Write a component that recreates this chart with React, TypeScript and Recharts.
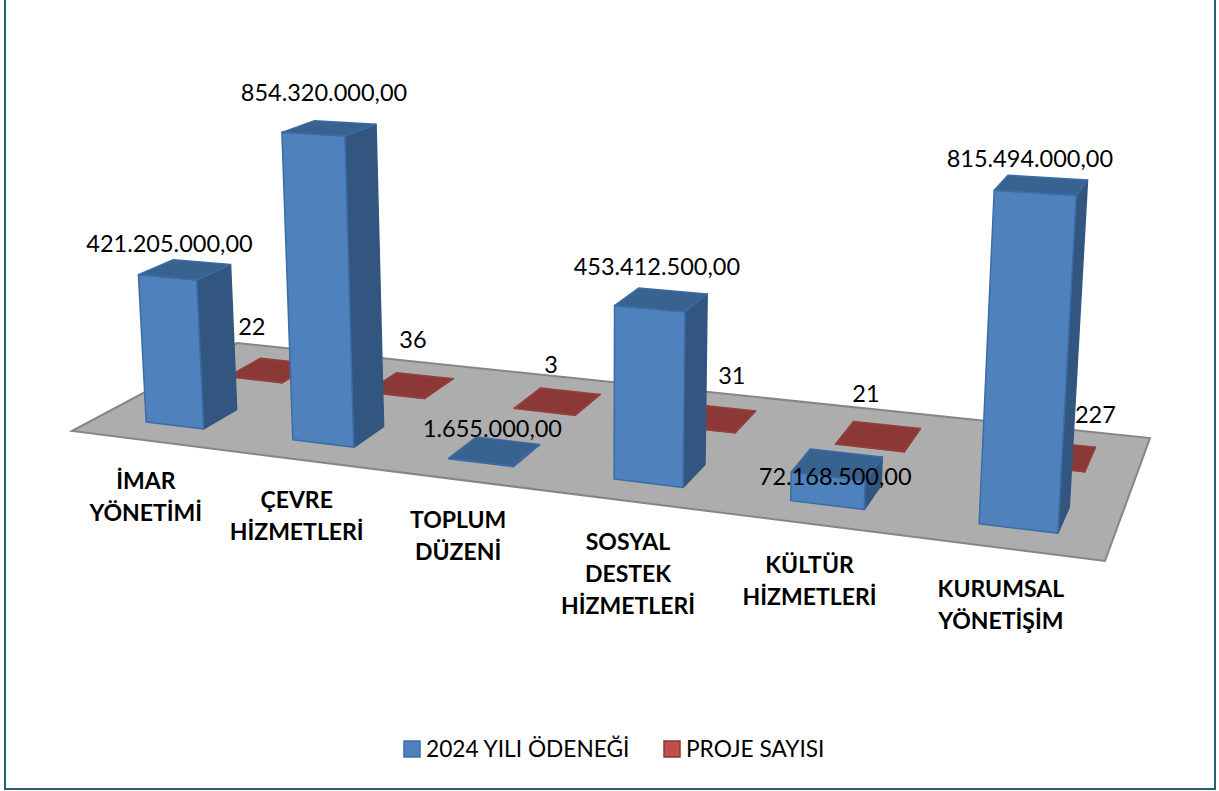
import { BarChart, Bar, XAxis, YAxis, LabelList } from 'recharts';

const categories = ['İMAR YÖNETİMİ', 'ÇEVRE HİZMETLERİ', 'TOPLUM DÜZENİ', 'SOSYAL DESTEK HİZMETLERİ', 'KÜLTÜR HİZMETLERİ', 'KURUMSAL YÖNETİŞİM'];
const budget = [421205000, 854320000, 1655000, 453412500, 72168500, 815494000];
const projects = [22, 36, 3, 31, 21, 227];
const seriesNames = ['2024 YILI ÖDENEĞİ', 'PROJE SAYISI'];

const data = categories.map((name, i) => ({ name, budget: budget[i], projects: projects[i] }));

const WIDTH = 1219;
const HEIGHT = 791;
const FONT = 'Lato, sans-serif';

// floor corners as seen on screen: back left, back right, front right, front left
const FLOOR = [[237, 343], [1150, 438], [1105, 561], [72, 431]];

const BLUE = { front: '#4f81bd', side: '#335680', top: '#38628f', stroke: '#3a6ca6' };
const RED = { front: '#c0504d', side: '#8c3836', top: '#8c3836', stroke: '#94403d' };

// homography from the unit floor square to the screen
const [[x0, y0], [x1, y1], [x2, y2], [x3, y3]] = FLOOR;
const sx = x0 - x1 + x2 - x3;
const sy = y0 - y1 + y2 - y3;
const dx1 = x1 - x2;
const dx2 = x3 - x2;
const dy1 = y1 - y2;
const dy2 = y3 - y2;
const den = dx1 * dy2 - dx2 * dy1;
const g = (sx * dy2 - dx2 * sy) / den;
const h = (dx1 * sy - sx * dy1) / den;

const toU = (px: number) => px / WIDTH + 0.005;
const depthOf = (u: number, v: number) => 1 + g * u + h * v;

function project(u: number, v: number) {
  const w = depthOf(u, v);
  return {
    x: ((x1 - x0 + g * x1) * u + (x3 - x0 + h * x3) * v + x0) / w,
    y: ((y1 - y0 + g * y1) * u + (y3 - y0 + h * y3) * v + y0) / w,
  };
}

// a vertical edge: grows with perspective and leans away from the middle
function raise(u: number, v: number, size: number) {
  const p = project(u, v);
  const up = size / depthOf(u, v);
  return { x: p.x + (p.x - 595) * 0.0001178 * up, y: p.y - up };
}

const pts = (list: { x: number; y: number }[]) => list.map((p) => `${p.x},${p.y}`).join(' ');

function box(x: number, width: number, height: number, vF: number, vB: number) {
  const uL = toU(x);
  const uR = toU(x + width);
  return {
    fl: project(uL, vF),
    fr: project(uR, vF),
    br: project(uR, vB),
    tfl: raise(uL, vF, height),
    tfr: raise(uR, vF, height),
    tbr: raise(uR, vB, height),
    tbl: raise(uL, vB, height),
  };
}

const makeBox = (vF: number, vB: number, c: typeof BLUE) => (props: any) => {
  const b = box(props.x, props.width, Math.abs(props.height), vF, vB);
  return (
    <g strokeWidth={1.5} strokeLinejoin="round">
      <polygon points={pts([b.fr, b.br, b.tbr, b.tfr])} fill={c.side} stroke={c.side} />
      <polygon points={pts([b.fl, b.fr, b.tfr, b.tfl])} fill={c.front} stroke={c.stroke} />
      <polygon points={pts([b.tfl, b.tfr, b.tbr, b.tbl])} fill={c.top} stroke={c.stroke} />
    </g>
  );
};

const money = (v: number) => v.toLocaleString('tr-TR', { minimumFractionDigits: 2, maximumFractionDigits: 2 });

// hand placed labels in the original
const budgetNudge = [[-15, 0.5], [-5, -9.5], [-1.5, 3.5], [-4, -6.5], [-1.5, 38.5], [-11, -0.5]];
const projectNudge = [[-19, -5], [3, -7], [-6, 2], [19, -4], [-12, -4], [42, -2]];
const tickNudge = [-2.5, -2.5, -1.5, -2.5, -3.5, -7.5];

const makeLabel = (vF: number, vB: number, nudge: number[][], fmt: (v: number) => string, dy: number) => (props: any) => {
  const { x, width, height, value, index } = props;
  const b = box(x, width, Math.abs(height), vF, vB);
  const cx = (b.tfl.x + b.tbr.x) / 2 + nudge[index][0];
  const cy = (b.tfl.y + b.tbr.y) / 2 + nudge[index][1] + dy;
  return (
    <text x={cx} y={cy} textAnchor="middle" fontFamily={FONT} fontSize={23.5} fill="#000">
      {fmt(value)}
    </text>
  );
};

function CategoryTick(props: any) {
  const { x, payload, index } = props;
  const p = project(toU(x), 1);
  return (
    <text textAnchor="middle" fontFamily={FONT} fontWeight={700} fontSize={23} fill="#000">
      {String(payload.value)
        .split(' ')
        .map((line, i) => (
          <tspan key={line} x={p.x + tickNudge[index]} y={p.y + 48.5 + i * 32}>
            {line}
          </tspan>
        ))}
    </text>
  );
}

export default function App() {
  return (
    <div style={{ position: 'relative', width: WIDTH, height: HEIGHT, overflow: 'hidden', background: '#fff' }}>
      <style>{'body{margin:0}'}</style>
      <div
        style={{
          position: 'absolute',
          left: 4,
          top: -4,
          width: 1212,
          height: 794,
          boxSizing: 'border-box',
          border: '2px solid #26616f',
        }}
      />
      <BarChart
        width={WIDTH}
        height={HEIGHT}
        data={data}
        margin={{ top: 200, right: 0, bottom: 280, left: 0 }}
        style={{ position: 'absolute', left: 0, top: 0 }}
      >
        <polygon points={FLOOR.map((p) => p.join(',')).join(' ')} fill="#adadad" stroke="#868686" strokeWidth={2} />
        <XAxis
          xAxisId="front"
          dataKey="name"
          height={1}
          axisLine={false}
          tickLine={false}
          interval={0}
          tick={CategoryTick}
        />
        <XAxis xAxisId="back" dataKey="name" hide />
        <YAxis hide domain={[0, 1000000000]} />
        <Bar xAxisId="back" dataKey="projects" barSize={81} shape={makeBox(0.355, 0.135, RED)} isAnimationActive={false}>
          <LabelList dataKey="projects" content={makeLabel(0.355, 0.135, projectNudge, String, -30)} />
        </Bar>
        <Bar xAxisId="front" dataKey="budget" barSize={81} shape={makeBox(0.85, 0.65, BLUE)} isAnimationActive={false}>
          <LabelList dataKey="budget" content={makeLabel(0.85, 0.65, budgetNudge, money, -18)} />
        </Bar>
        <g fontFamily={FONT} fontSize={22.7} fill="#000">
          <rect x={404} y={741} width={16} height={16} fill={BLUE.front} stroke={BLUE.stroke} strokeWidth={1.5} />
          <text x={426} y={757}>{seriesNames[0]}</text>
          <rect x={664} y={741} width={16} height={16} fill={RED.front} stroke={RED.side} strokeWidth={1.5} />
          <text x={686} y={757}>{seriesNames[1]}</text>
        </g>
      </BarChart>
    </div>
  );
}
